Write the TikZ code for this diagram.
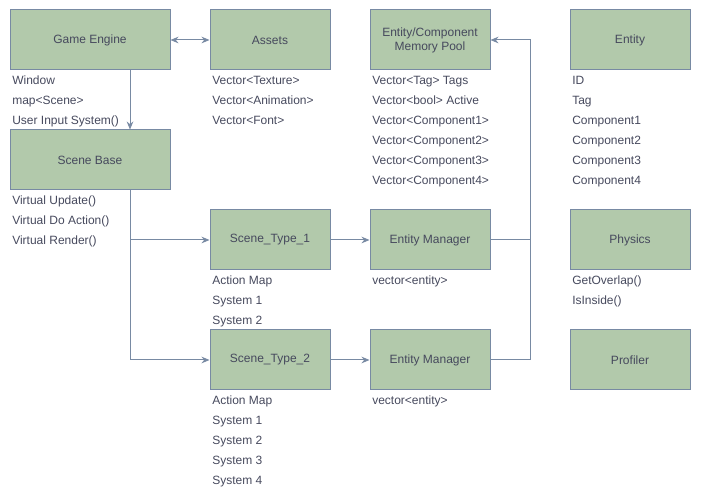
\documentclass[tikz,border=0pt]{standalone}
\usepackage{fontspec}
\setmainfont{Liberation Sans}
\usetikzlibrary{arrows.meta}
\definecolor{boxfill}{HTML}{B2C9AB}
\definecolor{boxline}{HTML}{788AA3}
\definecolor{txt}{HTML}{46495D}
\tikzset{
    block/.style={draw=boxline,fill=boxfill,line width=0.75pt,minimum width=90pt,minimum height=45pt,
        text=txt,font=\fontsize{9}{10.5}\selectfont},
    wide/.style={minimum width=120pt},
    item/.style={anchor=west,inner sep=0pt,text height=6.5pt,text depth=2pt,text=txt,font=\fontsize{9}{10.5}\selectfont},
    link/.style={draw=boxline,line width=0.75pt,-{Stealth[length=6pt,width=5pt]}},
    wire/.style={draw=boxline,line width=0.75pt}
}

\begin{document}
\begin{tikzpicture}[x=0.75pt,y=-0.75pt]
        \useasboundingbox (0,0) rectangle (701,502);
        \node[block,wide] (engine) at (90,40) {Game Engine};
        \node[block] (assets) at (270,40) {Assets};
        \node[block,align=center] (pool) at (430,40) {Entity/Component\\Memory Pool};
        \node[block] (entity) at (630,40) {Entity};
        \node[block,wide] (scenebase) at (90,160) {Scene Base};
        \node[block] (scene1) at (270,240) {Scene\_Type\_1};
        \node[block] (manager1) at (430,240) {Entity Manager};
        \node[block] (physics) at (630,240) {Physics};
        \node[block] (scene2) at (270,360) {Scene\_Type\_2};
        \node[block] (manager2) at (430,360) {Entity Manager};
        \node[block] (profiler) at (630,360) {Profiler};
        
        \foreach \entry [count=\k] in {Window,map<Scene>,User Input System()}{
            \node[item] (engine-\k) at (12,62+20*\k) {\entry};
        }
        \foreach \entry [count=\k] in {Vector<Texture>,Vector<Animation>,Vector<Font>}{
            \node[item] (assets-\k) at (212,62+20*\k) {\entry};
        }
        \foreach \entry [count=\k] in {Vector<Tag> Tags,Vector<bool> Active,Vector<Component1>,
            Vector<Component2>,Vector<Component3>,Vector<Component4>}{
            \node[item] (pool-\k) at (372,62+20*\k) {\entry};
        }
        \foreach \entry [count=\k] in {ID,Tag,Component1,Component2,Component3,Component4}{
            \node[item] (entity-\k) at (572,62+20*\k) {\entry};
        }
        \foreach \entry [count=\k] in {Virtual Update(),Virtual Do Action(),Virtual Render()}{
            \node[item] (scenebase-\k) at (12,182+20*\k) {\entry};
        }
        \foreach \entry [count=\k] in {Action Map,System 1,System 2}{
            \node[item] (scene1-\k) at (212,262+20*\k) {\entry};
        }
        \node[item] (manager1-1) at (372,282) {vector<entity>};
        \foreach \entry [count=\k] in {GetOverlap(),IsInside()}{
            \node[item] (physics-\k) at (572,262+20*\k) {\entry};
        }
        \foreach \entry [count=\k] in {Action Map,System 1,System 2,System 3,System 4}{
            \node[item] (scene2-\k) at (212,382+20*\k) {\entry};
        }
        \node[item] (manager2-1) at (372,402) {vector<entity>};
        
        % connectors
        \coordinate (drop) at (130,70);
        \coordinate (split) at (130,190);
        \coordinate (riser) at (530,40);
        \draw[link,{Stealth[length=6pt,width=5pt]}-{Stealth[length=6pt,width=5pt]}] (engine) -- (assets);
        \draw[link] (drop) -- (drop |- scenebase.north);
        \draw[link] (split) |- (scene1);
        \draw[link] (split) |- (scene2);
        \draw[link] (scene1) -- (manager1);
        \draw[link] (scene2) -- (manager2);
        \draw[link] (manager1.east) -| (riser) -- (pool);
        \draw[wire] (manager2.east) -| (riser |- manager1.east);
    \end{tikzpicture}
\end{document}
